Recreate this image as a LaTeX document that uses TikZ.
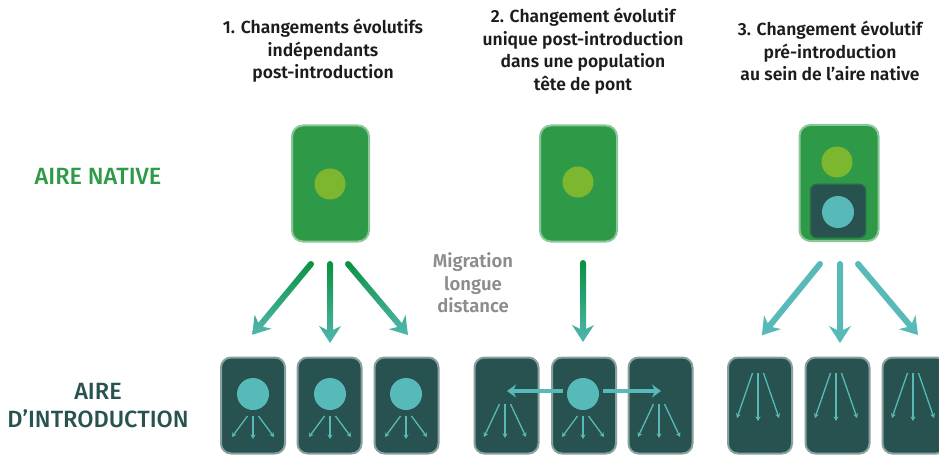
\documentclass[tikz,border=0pt]{standalone}
\usepackage{fontspec}
\setmainfont{Fira Sans}[UprightFont=* Medium, BoldFont=* SemiBold]
\usetikzlibrary{arrows.meta,calc}

\definecolor{natgreen}{HTML}{2E9A48}
\definecolor{litgreen}{HTML}{7DB72F}
\definecolor{darkteal}{HTML}{27524F}
\definecolor{teal}{HTML}{57BAB9}
\definecolor{arrgreen}{HTML}{0C9242}
\definecolor{arrteal}{HTML}{4FB7AE}
\definecolor{headtxt}{HTML}{1C1C1C}
\definecolor{migtxt}{HTML}{8C8C8C}

\tikzset{
  nbox/.style={rounded corners=11pt, fill=natgreen, draw=natgreen!55!white,
    line width=2pt, minimum width=77pt, minimum height=116pt, inner sep=0pt},
  ibox/.style={rounded corners=10pt, fill=darkteal, draw=darkteal!55!white,
    line width=2pt, minimum width=64pt, minimum height=96pt, inner sep=0pt},
  dotgreen/.style={circle, fill=litgreen, minimum size=31pt, inner sep=0pt},
  dotteal/.style={circle, fill=teal, minimum size=32pt, inner sep=0pt},
  fanline/.style={draw=teal, line width=1.3pt, -{Stealth[length=4.5pt,width=5pt]}},
  hop/.style={draw=teal, line width=4.5pt, -{Stealth[length=9pt,width=13pt]}},
  heading/.style={align=center, text=headtxt, font=\fontsize{17.5}{22.5}\selectfont\bfseries},
  rowlabel/.style={align=center, font=\fontsize{23.5}{28}\selectfont},
}

% fat arrow: start coordinate, rotation, length, top colour, bottom colour
\newcommand\fatarrow[5]{%
  \shade[top color=#4, bottom color=#5, shift={(#1)}, rotate=#2]
    (-3,0) -- (-3,{#3-13}) -- (-11,{#3-17}) -- (0,#3) -- (11,{#3-17})
    -- (3,{#3-13}) -- (3,0) -- cycle;
  \fill[#4] (#1) circle (3);}

% three spreading arrows below a point
\newcommand\fan[4]{%
  \draw[fanline] (#1-5.5,#2) -- (#1-21,#3);
  \draw[fanline] (#1,#2) -- (#1,#4);
  \draw[fanline] (#1+5.5,#2) -- (#1+21,#3);}

\begin{document}
\begin{tikzpicture}[x=1pt,y=-1pt]
\path[use as bounding box] (0,0) rectangle (939,457);
\clip (0,0) rectangle (939,457);

% headings
\node[heading] (h1) at (323,51) {1. Changements évolutifs\\indépendants\\post-introduction};
\node[heading] (h2) at (583,51) {2. Changement évolutif\\unique post-introduction\\dans une population\\tête de pont};
\node[heading] (h3) at (830,51) {3. Changement évolutif\\pré-introduction\\au sein de l'aire native};

% row labels
\node[rowlabel, text=natgreen] (rn) at (98,176) {AIRE NATIVE};
\node[rowlabel, text=darkteal] (ri) at (98,406) {AIRE\\D’INTRODUCTION};
\node[align=center, text=migtxt, font=\fontsize{18.5}{22.5}\selectfont\bfseries] (mig) at (473,283) {Migration\\longue\\distance};

% native range populations
\node[nbox] (n1) at (330.5,183.5) {};
\node[dotgreen] (d1) at (330,184) {};
\node[nbox] (n2) at (578.5,183.5) {};
\node[dotgreen] (d2) at (578,182) {};
\node[nbox, minimum width=79pt] (n3) at (839,183) {};
\node[dotgreen] (d3) at (837,162) {};
\node[rounded corners=6pt, fill=darkteal, draw=darkteal!70!natgreen, line width=1.5pt,
      minimum width=55pt, minimum height=53pt, inner sep=0pt] (m3) at (838,211) {};
\node[dotteal] (t3) at (838,212) {};

% introduced range populations
\node[ibox] (a1) at (253,405.5) {};
\node[ibox] (a2) at (329.5,405.5) {};
\node[ibox] (a3) at (406.5,405.5) {};
\node[ibox] (b1) at (506.5,405.5) {};
\node[ibox] (b2) at (584,405.5) {};
\node[ibox] (b3) at (660.5,405.5) {};
\node[ibox] (c1) at (760,405.5) {};
\node[ibox] (c2) at (837.5,405.5) {};
\node[ibox] (c3) at (914.5,405.5) {};

\node[dotteal] (ea1) at (253,394) {};
\node[dotteal] (ea2) at (330,394) {};
\node[dotteal] (ea3) at (406,394) {};
\node[dotteal] (eb2) at (583,394) {};

% local spread within each introduced population
\fan{253}{416}{437}{439}
\fan{330}{416}{437}{439}
\fan{406}{416}{437}{439}
\fan{505}{404}{437}{438}
\fan{583}{416}{437}{439}
\fan{659}{404}{437}{438}
\fan{758}{373}{418}{421}
\fan{836}{373}{418}{421}
\fan{913}{373}{418}{421}

% bridgehead spread
\coordinate (hl) at (507,391);
\coordinate (hr) at (661,391);
\draw[hop] (eb2.west) ++(-4,-3) -- (hl);
\draw[hop] (eb2.east) ++(4,-3) -- (hr);

% long distance migrations
\coordinate (s1l) at (311,264);
\coordinate (s1m) at (330,264);
\coordinate (s1r) at (348,264);
\coordinate (s2m) at (583,263);
\coordinate (s3l) at (820,264);
\coordinate (s3m) at (840,264);
\coordinate (s3r) at (858,264);
\fatarrow{s1l}{-39.7}{92}{arrgreen}{arrteal}
\fatarrow{s1m}{0}{79}{arrgreen}{arrteal}
\fatarrow{s1r}{40.2}{93}{arrgreen}{arrteal}
\fatarrow{s2m}{0}{79}{arrgreen}{arrteal}
\fatarrow{s3l}{-39.2}{92}{teal}{teal}
\fatarrow{s3m}{0}{79}{teal}{teal}
\fatarrow{s3r}{40.2}{93}{teal}{teal}
\end{tikzpicture}
\end{document}
